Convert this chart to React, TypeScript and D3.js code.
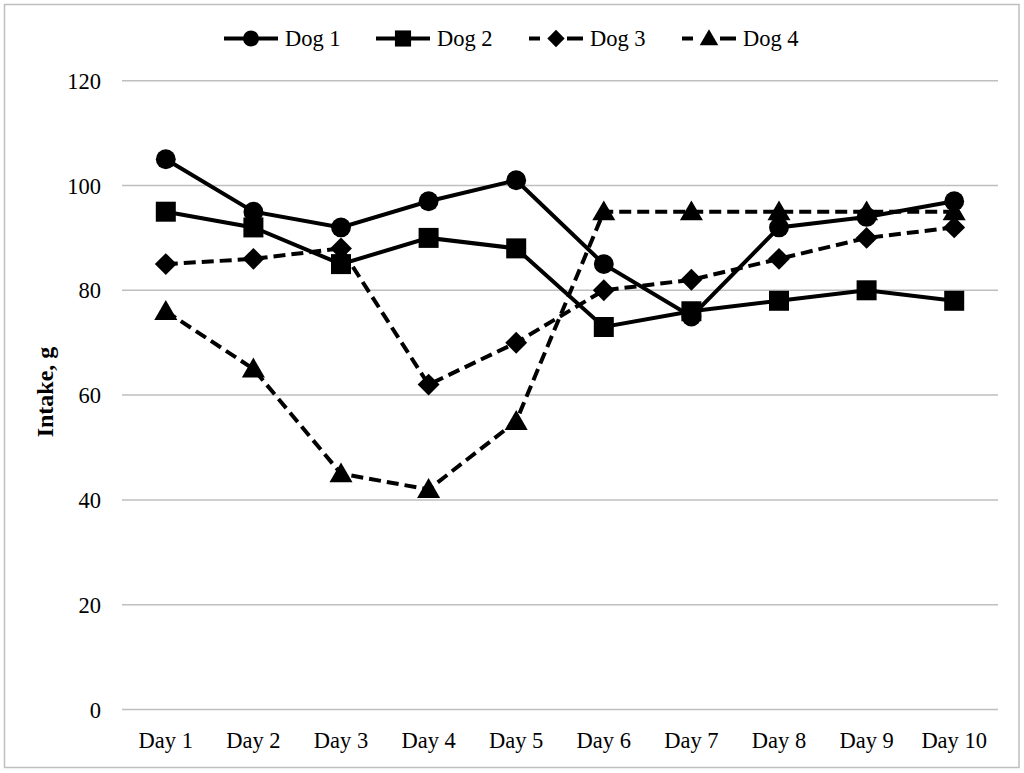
import * as d3 from "d3";
import { useEffect, useRef } from "react";

const days = ["Day 1", "Day 2", "Day 3", "Day 4", "Day 5", "Day 6", "Day 7", "Day 8", "Day 9", "Day 10"];
const dog1 = [105, 95, 92, 97, 101, 85, 75, 92, 94, 97];
const dog2 = [95, 92, 85, 90, 88, 73, 76, 78, 80, 78];
const dog3 = [85, 86, 88, 62, 70, 80, 82, 86, 90, 92];
const dog4 = [76, 65, 45, 42, 55, 95, 95, 95, 95, 95];
const yTicks = [0, 20, 40, 60, 80, 100, 120];

const series = [
  { name: "Dog 1", values: dog1, symbol: d3.symbolCircle, size: 310, lsize: 200, rot: 0, dy: 0, dashed: false, legendX: 224 },
  { name: "Dog 2", values: dog2, symbol: d3.symbolSquare, size: 400, lsize: 260, rot: 0, dy: 0, dashed: false, legendX: 376 },
  { name: "Dog 3", values: dog3, symbol: d3.symbolSquare, size: 240, lsize: 150, rot: 45, dy: 0, dashed: true, legendX: 529 },
  { name: "Dog 4", values: dog4, symbol: d3.symbolTriangle, size: 230, lsize: 150, rot: 0, dy: 2, dashed: true, legendX: 682 },
];

export default function App() {
  const svgRef = useRef<SVGSVGElement | null>(null);

  useEffect(() => {
    const font = "'Liberation Serif', 'Times New Roman', serif";

    const svg = d3.select(svgRef.current);
    svg.selectAll("*").remove();

    const x = d3.scaleBand<string>().domain(days).range([122, 998]);
    const y = d3.scaleLinear().domain([0, 120]).range([709.5, 80.7]);

    svg
      .append("rect")
      .attr("x", 4.5)
      .attr("y", 4.5)
      .attr("width", 1014.5)
      .attr("height", 763)
      .attr("fill", "#fff")
      .attr("stroke", "#bfbfbf")
      .attr("stroke-width", 1.5);

    // gridlines
    svg
      .append("g")
      .selectAll("line")
      .data(yTicks)
      .join("line")
      .attr("x1", 122)
      .attr("x2", 998)
      .attr("y1", (d) => y(d))
      .attr("y2", (d) => y(d))
      .attr("stroke", "#bfbfbf")
      .attr("stroke-width", 1.5);

    svg
      .append("g")
      .selectAll("text")
      .data(yTicks)
      .join("text")
      .attr("x", 101)
      .attr("y", (d) => y(d) + 8)
      .attr("text-anchor", "end")
      .style("font-family", font)
      .style("font-size", "22.5px")
      .text((d) => d);

    svg
      .append("g")
      .selectAll("text")
      .data(days)
      .join("text")
      .attr("x", (d) => x(d)! + x.bandwidth() / 2)
      .attr("y", 748)
      .attr("text-anchor", "middle")
      .style("font-family", font)
      .style("font-size", "22.5px")
      .text((d) => d);

    svg
      .append("text")
      .attr("transform", "translate(53,392) rotate(-90)")
      .attr("text-anchor", "middle")
      .style("font-family", font)
      .style("font-size", "24px")
      .style("font-weight", "bold")
      .text("Intake, g");

    const cx = (i: number) => x(days[i])! + x.bandwidth() / 2;
    const line = d3
      .line<number>()
      .x((_, i) => cx(i))
      .y((d) => y(d));

    series.forEach((s) => {
      const g = svg.append("g");
      g.append("path")
        .attr("d", line(s.values))
        .attr("fill", "none")
        .attr("stroke", "#000")
        .attr("stroke-width", 4)
        .attr("stroke-dasharray", s.dashed ? "12,6" : null);
      g.selectAll("path.m")
        .data(s.values)
        .join("path")
        .attr("class", "m")
        .attr("d", d3.symbol(s.symbol, s.size)())
        .attr("transform", (d, i) => `translate(${cx(i)},${y(d) + s.dy}) rotate(${s.rot})`)
        .attr("fill", "#000");

      // legend
      const lg = svg.append("g").attr("transform", `translate(${s.legendX},38.5)`);
      lg.append("line")
        .attr("x1", 0)
        .attr("x2", 54)
        .attr("stroke", "#000")
        .attr("stroke-width", 4)
        .attr("stroke-dasharray", s.dashed ? "11,27,16" : null);
      lg.append("path")
        .attr("d", d3.symbol(s.symbol, s.lsize)())
        .attr("transform", `translate(27,${s.dy * 0.75}) rotate(${s.rot})`)
        .attr("fill", "#000");
      lg.append("text")
        .attr("x", 61)
        .attr("y", 7)
        .style("font-family", font)
        .style("font-size", "22.5px")
        .text(s.name);
    });
  }, []);

  return (
    <div style={{ position: "fixed", left: 0, top: 0, width: 1024, height: 773, background: "#fff" }}>
      <svg ref={svgRef} width={1024} height={773} viewBox="0 0 1024 773" style={{ display: "block" }} />
    </div>
  );
}
